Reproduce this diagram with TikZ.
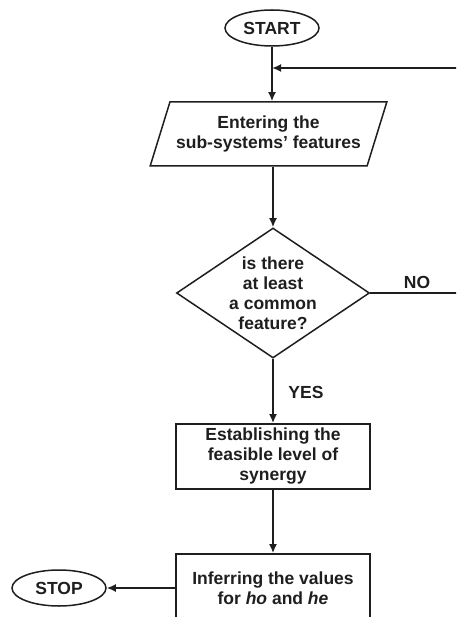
\documentclass[tikz,border=0pt]{standalone}
\usepackage{fontspec}
\setmainfont{Liberation Sans}
\usetikzlibrary{shapes.geometric,arrows.meta}
\definecolor{ink}{HTML}{1E1E1E}
\begin{document}
\begin{tikzpicture}[x=1pt,y=-1pt,
  every node/.style={font=\fontsize{17.5}{20}\selectfont\bfseries, text=ink},
  line/.style={line width=1.8pt, draw=ink},
  arr/.style={line, -{Latex[length=9pt,width=8pt]}},
  term/.style={ellipse, draw=ink, line width=1.5pt, minimum width=94pt, minimum height=36pt, inner sep=0pt},
  proc/.style={rectangle, draw=ink, line width=1.7pt, minimum width=194pt, inner sep=0pt, align=center},
  io/.style={trapezium, trapezium left angle=63, trapezium right angle=117, trapezium stretches=true,
    draw=ink, line width=1.5pt, minimum width=237pt, minimum height=64pt, inner sep=0pt, align=center},
  dia/.style={diamond, draw=ink, line width=1.5pt, minimum width=193pt, minimum height=130pt, inner sep=0pt},
  lbl/.style={inner sep=0pt, align=center}
]
\useasboundingbox (0,0) rectangle (456,617);
\clip (0,0) rectangle (456,617);

\node[term] (start) at (272,28) {START};
\node[io] (para) at (268.5,134) {Entering the\\sub-systems’ features};
\node[dia] (dec) at (273,293) {};
\node[lbl] (dectext) at (dec.center) {is there\\at least\\a common\\feature?};
\node[proc, minimum height=65pt] (est) at (273,456.5) {Establishing the\\feasible level of\\synergy};
\node[proc, minimum height=68pt] (inf) at (273,588) {Inferring the values\\for \textit{ho} and \textit{he}};
\node[term] (stop) at (59,588) {STOP};
\node[lbl] (no) at (417,282) {NO};
\node[lbl] (yes) at (306,392) {YES};
\coordinate (ret) at (480,68);
\coordinate (join) at (272,68);

\draw[arr] (start.south) -- (start.south |- para.north);
\draw[arr] (dec.east) -- (dec.east -| ret) -- (ret) -- (join);
\draw[arr] (dec.north |- para.south) -- (dec.north);
\draw[arr] (dec.south) -- (dec.south |- est.north);
\draw[arr] (est.south) -- (inf.north);
\draw[arr] (inf.west) -- (stop.east);
\end{tikzpicture}
\end{document}
